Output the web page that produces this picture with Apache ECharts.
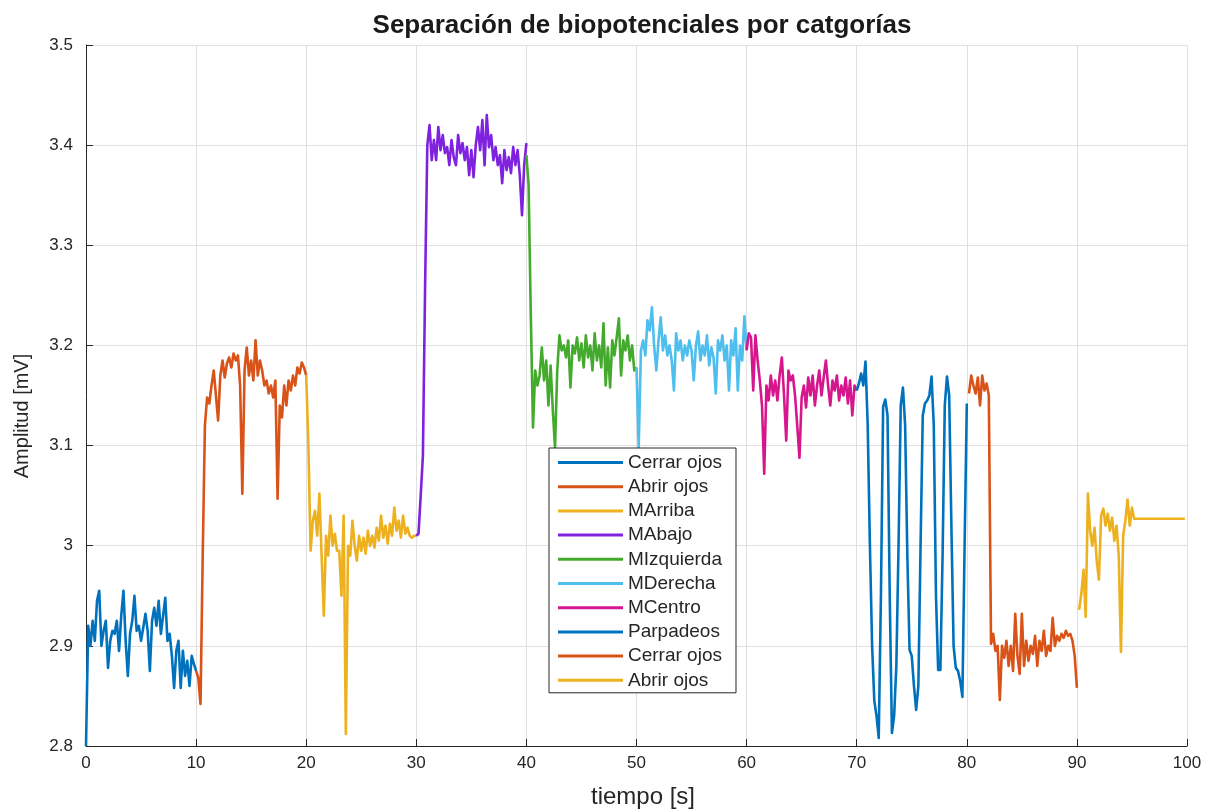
<!DOCTYPE html>
<html>
<head>
<meta charset="utf-8">
<title>Separación de biopotenciales por catgorías</title>
<script src="https://cdn.jsdelivr.net/npm/echarts@6/dist/echarts.min.js"></script>
<style>
  html, body { margin: 0; padding: 0; background: #ffffff; }
  #chart { width: 1225px; height: 812px; }
</style>
</head>
<body>
<div id="chart"></div>
<script>
// Sampling step of every recording segment, in seconds
const step = 0.2;

// Segment names (legend order) and the time at which each segment starts [s]
const segmentNames = ['Cerrar ojos', 'Abrir ojos', 'MArriba', 'MAbajo', 'MIzquierda',
                      'MDerecha', 'MCentro', 'Parpadeos', 'Cerrar ojos', 'Abrir ojos'];
const segmentStarts = [0, 10, 20, 30, 40, 50, 60, 70, 80.2, 90.2];

// Amplitude samples [mV] of each segment
const cerrarOjos1 = [2.800, 2.920, 2.900, 2.925, 2.905, 2.945, 2.955, 2.900, 2.915, 2.925,
  2.878, 2.905, 2.915, 2.912, 2.925, 2.895, 2.930, 2.955, 2.905, 2.870,
  2.912, 2.925, 2.950, 2.915, 2.920, 2.905, 2.918, 2.932, 2.915, 2.875,
  2.925, 2.938, 2.920, 2.945, 2.912, 2.930, 2.948, 2.905, 2.912, 2.890,
  2.858, 2.895, 2.905, 2.858, 2.895, 2.870, 2.885, 2.860, 2.890, 2.882,
  2.875];
const abrirOjos1 = [2.875, 2.868, 2.842, 2.990, 3.120, 3.148, 3.142, 3.160, 3.175, 3.150,
  3.125, 3.170, 3.185, 3.168, 3.182, 3.188, 3.178, 3.192, 3.185, 3.190,
  3.160, 3.052, 3.175, 3.198, 3.170, 3.185, 3.165, 3.205, 3.170, 3.185,
  3.175, 3.160, 3.165, 3.152, 3.160, 3.148, 3.165, 3.047, 3.140, 3.128,
  3.160, 3.140, 3.165, 3.155, 3.170, 3.160, 3.178, 3.172, 3.183, 3.178,
  3.170];
const mArriba = [3.170, 3.100, 2.995, 3.025, 3.035, 3.010, 3.052, 2.990, 2.930, 3.010,
  2.990, 3.030, 3.000, 3.012, 2.995, 2.995, 2.950, 3.030, 2.812, 3.000,
  2.990, 3.025, 3.000, 2.985, 3.010, 2.995, 3.008, 2.992, 3.015, 3.000,
  3.010, 2.998, 3.018, 3.005, 3.030, 3.008, 3.020, 3.002, 3.022, 3.010,
  3.038, 3.015, 3.025, 3.008, 3.030, 3.012, 3.018, 3.010, 3.008, 3.010,
  3.010];
const mAbajo = [3.010, 3.012, 3.050, 3.090, 3.260, 3.400, 3.420, 3.385, 3.405, 3.385,
  3.418, 3.395, 3.410, 3.392, 3.398, 3.380, 3.405, 3.388, 3.380, 3.410,
  3.392, 3.402, 3.385, 3.398, 3.370, 3.395, 3.368, 3.400, 3.418, 3.395,
  3.425, 3.380, 3.430, 3.398, 3.410, 3.385, 3.398, 3.380, 3.390, 3.362,
  3.395, 3.375, 3.388, 3.372, 3.398, 3.380, 3.395, 3.370, 3.330, 3.380,
  3.402];
const mIzquierda = [3.390, 3.360, 3.230, 3.118, 3.175, 3.160, 3.170, 3.198, 3.165, 3.185,
  3.140, 3.180, 3.135, 3.098, 3.175, 3.210, 3.195, 3.200, 3.188, 3.205,
  3.158, 3.200, 3.192, 3.208, 3.185, 3.202, 3.178, 3.210, 3.188, 3.200,
  3.175, 3.212, 3.185, 3.200, 3.178, 3.222, 3.160, 3.198, 3.158, 3.205,
  3.190, 3.208, 3.227, 3.170, 3.205, 3.195, 3.210, 3.185, 3.200, 3.175,
  3.178];
const mDerecha = [3.178, 3.098, 3.195, 3.205, 3.190, 3.225, 3.215, 3.238, 3.200, 3.175,
  3.205, 3.228, 3.195, 3.210, 3.190, 3.200, 3.185, 3.155, 3.212, 3.195,
  3.205, 3.185, 3.200, 3.190, 3.205, 3.195, 3.165, 3.200, 3.214, 3.185,
  3.200, 3.190, 3.210, 3.180, 3.198, 3.188, 3.152, 3.205, 3.195, 3.210,
  3.185, 3.200, 3.155, 3.205, 3.190, 3.217, 3.155, 3.200, 3.185, 3.229,
  3.195];
const mCentro = [3.195, 3.212, 3.208, 3.155, 3.210, 3.185, 3.165, 3.140, 3.072, 3.160,
  3.145, 3.170, 3.150, 3.165, 3.145, 3.170, 3.188, 3.150, 3.105, 3.175,
  3.165, 3.170, 3.150, 3.120, 3.088, 3.148, 3.160, 3.138, 3.168, 3.150,
  3.170, 3.140, 3.160, 3.175, 3.150, 3.168, 3.185, 3.160, 3.140, 3.165,
  3.155, 3.170, 3.145, 3.160, 3.150, 3.168, 3.142, 3.165, 3.130, 3.160,
  3.155];
const parpadeos = [3.155, 3.162, 3.172, 3.160, 3.184, 3.120, 3.000, 2.900, 2.845, 2.830,
  2.808, 2.950, 3.139, 3.146, 3.130, 2.950, 2.813, 2.830, 2.880, 3.000,
  3.140, 3.158, 3.120, 2.990, 2.896, 2.890, 2.860, 2.836, 2.860, 3.000,
  3.130, 3.142, 3.145, 3.150, 3.169, 3.120, 2.950, 2.876, 2.876, 2.990,
  3.140, 3.169, 3.150, 3.020, 2.900, 2.878, 2.875, 2.865, 2.849, 3.000,
  3.142];
const cerrarOjos2 = [3.152, 3.170, 3.160, 3.152, 3.168, 3.140, 3.170, 3.155, 3.162, 3.150,
  2.902, 2.912, 2.895, 2.900, 2.846, 2.900, 2.888, 2.905, 2.880, 2.900,
  2.875, 2.932, 2.890, 2.872, 2.932, 2.880, 2.905, 2.885, 2.900, 2.892,
  2.910, 2.880, 2.905, 2.895, 2.915, 2.890, 2.900, 2.895, 2.928, 2.900,
  2.910, 2.905, 2.912, 2.908, 2.915, 2.910, 2.912, 2.905, 2.890, 2.858];
const abrirOjos2 = [2.936, 2.952, 2.976, 2.929, 3.052, 3.015, 3.000, 3.018, 2.985, 2.966,
  3.030, 3.037, 3.020, 3.032, 3.015, 3.028, 3.005, 3.020, 2.990, 2.894,
  3.010, 3.025, 3.046, 3.020, 3.038, 3.027, 3.027, 3.027, 3.027, 3.027,
  3.027, 3.027, 3.027, 3.027, 3.027, 3.027, 3.027, 3.027, 3.027, 3.027,
  3.027, 3.027, 3.027, 3.027, 3.027, 3.027, 3.027, 3.027, 3.027];

const segmentValues = [cerrarOjos1, abrirOjos1, mArriba, mAbajo, mIzquierda,
                       mDerecha, mCentro, parpadeos, cerrarOjos2, abrirOjos2];

// Axis ticks
const xTicks = { min: 0, max: 100, interval: 10 };
const yTicks = { min: 2.8, max: 3.5, interval: 0.1 };

const lineColors = ['#0072BD', '#D95319', '#EDB120', '#7F22E0', '#44AA2E',
                    '#4DBEEE', '#D6168C', '#0072BD', '#D95319', '#EDB120'];

const FONT = '"Liberation Sans", Arial, Helvetica, sans-serif';
const INK = '#262626';

// Repeated categories get a trailing thin space so each keeps its own legend row
const seriesNames = segmentNames.map((n, i) =>
  segmentNames.indexOf(n) === i ? n : n + '\u2009');

const series = segmentValues.map((vals, k) => ({
  name: seriesNames[k],
  type: 'line',
  symbol: 'none',
  animation: false,
  color: lineColors[k],
  lineStyle: { width: 2.6, color: lineColors[k], join: 'round' },
  data: vals.map((v, i) => [Math.round((segmentStarts[k] + i * step) * 100) / 100, v])
}));

const chart = echarts.init(document.getElementById('chart'), null, { renderer: 'canvas' });
chart.setOption({
  backgroundColor: '#ffffff',
  animation: false,
  title: {
    text: 'Separación de biopotenciales por catgorías',
    left: 642,
    textAlign: 'center',
    top: 13,
    padding: 0,
    textStyle: { fontFamily: FONT, fontSize: 26, fontWeight: 'bold', color: '#1a1a1a' }
  },
  grid: { left: 86, right: 38, top: 45, bottom: 66, containLabel: false },
  legend: {
    orient: 'vertical',
    left: 549,
    top: 448,
    selectedMode: false,
    icon: 'rect',
    itemWidth: 65,
    itemHeight: 3,
    itemGap: 5.2,
    padding: [5, 14, 3, 9],
    backgroundColor: '#ffffff',
    borderColor: INK,
    borderWidth: 1,
    borderRadius: 0,
    formatter: name => name.trim(),
    textStyle: { fontFamily: FONT, fontSize: 19, lineHeight: 19, color: INK },
    data: seriesNames
  },
  // Axis titles
  graphic: [
    {
      type: 'text', x: 643, y: 797,
      style: { text: 'tiempo [s]', x: 0, y: 0, align: 'center', verticalAlign: 'middle',
               font: '24px ' + FONT, fill: INK },
      silent: true
    },
    {
      type: 'text', rotation: Math.PI / 2, x: 22, y: 416,
      style: { text: 'Amplitud [mV]', x: 0, y: 0, align: 'center', verticalAlign: 'middle',
               font: '20px ' + FONT, fill: INK },
      silent: true
    }
  ],
  xAxis: {
    type: 'value',
    min: xTicks.min, max: xTicks.max, interval: xTicks.interval,
    axisLine: { show: true, onZero: false, lineStyle: { color: INK, width: 1 } },
    axisTick: { show: true, inside: true, length: 7, lineStyle: { color: INK, width: 1 } },
    axisLabel: { fontFamily: FONT, fontSize: 17, color: INK, margin: 9 },
    splitLine: { show: true, lineStyle: { color: '#e0e0e0', width: 1 } }
  },
  yAxis: {
    type: 'value',
    min: yTicks.min, max: yTicks.max, interval: yTicks.interval,
    axisLine: { show: true, onZero: false, lineStyle: { color: INK, width: 1 } },
    axisTick: { show: true, inside: true, length: 7, lineStyle: { color: INK, width: 1 } },
    axisLabel: {
      fontFamily: FONT, fontSize: 17, color: INK, margin: 13,
      formatter: v => String(Math.round(v * 10) / 10)
    },
    splitLine: { show: true, lineStyle: { color: '#e0e0e0', width: 1 } }
  },
  series: series
});
</script>
</body>
</html>
